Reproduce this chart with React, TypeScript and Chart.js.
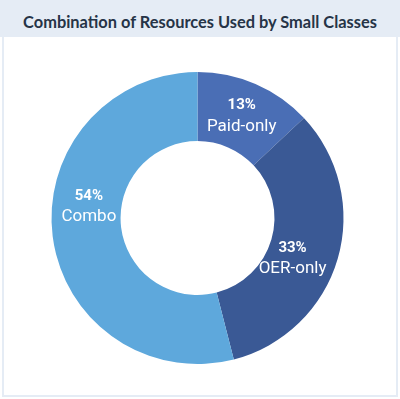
import React, { useEffect, useRef } from "react";
import { Chart, registerables } from "chart.js";

Chart.register(...registerables);

const categories = ["Paid-only", "OER-only", "Combo"];
const shares = [13, 33, 54];
const colors = ["#4a6eb5", "#3a5995", "#5ea8dc"];
const title = "Combination of Resources Used by Small Classes";

const labelPlugin = {
  id: "sliceLabels",
  afterDatasetsDraw(chart: any) {
    const ctx = chart.ctx;
    const meta = chart.getDatasetMeta(0);
    const offsets: Record<number, [number, number]> = { 1: [-12, 9], 2: [2, -26] };
    meta.data.forEach((arc: any, i: number) => {
      const p = arc.tooltipPosition();
      const off = offsets[i] || [0, 0];
      const x = p.x + off[0];
      const y = p.y + off[1];
      ctx.save();
      ctx.fillStyle = "#ffffff";
      ctx.textAlign = "center";
      ctx.textBaseline = "middle";
      ctx.font = "bold 15px Roboto";
      ctx.fillText(shares[i] + "%", x, y - 10);
      ctx.font = "17px Roboto";
      ctx.fillText(categories[i], x, y + 11);
      ctx.restore();
    });
  },
};

export default function App() {
  const ref = useRef<HTMLCanvasElement>(null);
  useEffect(() => {
    if (!ref.current) return;
    const chart = new Chart(ref.current, {
      type: "doughnut",
      data: {
        labels: categories,
        datasets: [
          {
            data: shares,
            backgroundColor: colors,
            borderWidth: 0,
          },
        ],
      },
      options: {
        animation: false,
        responsive: false,
        radius: 146,
        cutout: "52.7%",
        layout: { padding: { right: 5 } },
        plugins: {
          legend: { display: false },
          tooltip: { enabled: false },
          title: { display: false },
        },
      },
      plugins: [labelPlugin],
    });
    return () => chart.destroy();
  }, []);

  return (
    <div style={{ position: "absolute", left: 0, top: 0, width: 400, height: 399, background: "#fff", overflow: "hidden" }}>
      <div
        style={{
          position: "absolute",
          left: 0,
          top: 0,
          width: 400,
          height: 37,
          background: "#e5ecf5",
          color: "#263447",
          fontFamily: "Lato",
          fontWeight: 700,
          fontSize: 16.4,
          lineHeight: "37px",
          textAlign: "center",
          paddingTop: 3,
          boxSizing: "border-box",
          whiteSpace: "nowrap",
        }}
      >
        {title}
      </div>
      <div
        style={{
          position: "absolute",
          left: 2,
          top: 37,
          width: 396,
          height: 360,
          border: "2px solid #e5ecf5",
          borderTop: "none",
          boxSizing: "border-box",
        }}
      />
      <canvas
        ref={ref}
        width={400}
        height={362}
        style={{ position: "absolute", left: 0, top: 37, width: 400, height: 362 }}
      />
    </div>
  );
}
